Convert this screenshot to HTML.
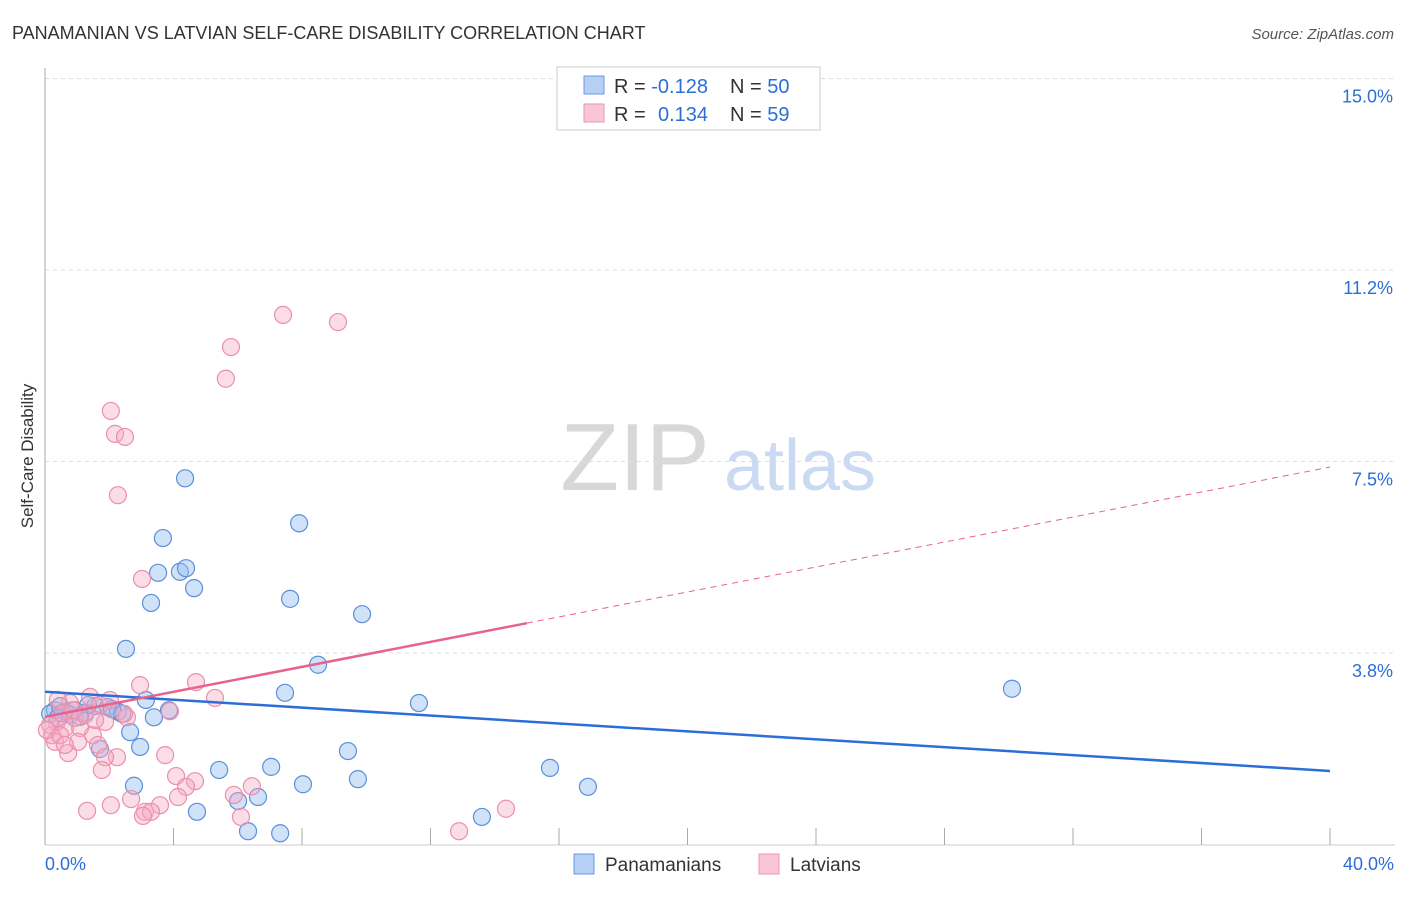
<!DOCTYPE html>
<html><head><meta charset="utf-8"><style>
body{margin:0;background:#fff;font-family:"Liberation Sans",sans-serif}
svg text{font-family:"Liberation Sans",sans-serif}
</style></head><body>
<svg id="c" width="1406" height="892">
<text x="12" y="39" font-size="18" fill="#333">PANAMANIAN VS LATVIAN SELF-CARE DISABILITY CORRELATION CHART</text>
<text x="1394" y="39" font-size="15" fill="#555" text-anchor="end" font-style="italic">Source: ZipAtlas.com</text>
<text x="33" y="456" font-size="17" fill="#333" text-anchor="middle" transform="rotate(-90 33 456)">Self-Care Disability</text>
<text x="635" y="490" font-size="96" fill="#d8d8d8" text-anchor="middle" font-family="Liberation Serif">ZIP</text>
<text x="800" y="490" font-size="72" fill="#c9daf2" text-anchor="middle">atlas</text>
<g id="grid"></g><g id="pts"></g><g id="lines"></g>
<g>
<rect x="557" y="67" width="263" height="63" fill="#fff" stroke="#ccc"/>
<rect x="584" y="76" width="20" height="18" fill="#b5cff5" stroke="#6a9be0"/>
<rect x="584" y="104" width="20" height="18" fill="#f9c6d5" stroke="#ee95b0"/>
<text x="614" y="93" font-size="20" fill="#333">R = <tspan fill="#2b6fd6">-0.128</tspan><tspan x="730">N = </tspan><tspan fill="#2b6fd6">50</tspan></text>
<text x="614" y="121" font-size="20" fill="#333">R = <tspan x="658" fill="#2b6fd6">0.134</tspan><tspan x="730">N = </tspan><tspan fill="#2b6fd6">59</tspan></text>
</g>
<g>
<rect x="574" y="854" width="20" height="20" fill="#b5cff5" stroke="#6a9be0"/>
<text x="605" y="871" font-size="19" fill="#333">Panamanians</text>
<rect x="759" y="854" width="20" height="20" fill="#f9c6d5" stroke="#ee95b0"/>
<text x="790" y="871" font-size="19" fill="#333">Latvians</text>
</g>
</svg>
<script>
const yTicks=[3.8,7.5,11.2,15.0];
const yTickVals=[3.75,7.5,11.25,15];
const xLabels=["0.0%","40.0%"];
const blueX=[4.36,3.67,7.91,3.52,4.20,4.39,4.64,3.30,7.63,9.87,2.52,8.50,30.10,7.47,3.14,11.64,0.31,0.62,0.93,1.25,1.56,1.96,2.27,2.40,3.86,3.39,2.65,2.96,1.71,9.43,5.42,7.04,15.72,2.77,8.03,9.74,16.90,6.01,6.63,4.73,6.32,7.32,13.60,0.16,0.40,0.78,1.34,2.09,0.47,1.09];
const blueY=[7.17,6.00,6.29,5.32,5.34,5.41,5.02,4.73,4.81,4.51,3.83,3.52,3.05,2.97,2.83,2.77,2.63,2.60,2.63,2.58,2.71,2.69,2.60,2.56,2.63,2.49,2.20,1.91,1.87,1.83,1.46,1.52,1.50,1.15,1.18,1.28,1.13,0.85,0.93,0.64,0.26,0.22,0.54,2.56,2.48,2.54,2.73,2.65,2.71,2.50];
const pinkX=[7.41,9.12,5.79,5.63,2.05,2.18,2.49,2.27,3.02,4.70,2.96,5.29,1.40,0.78,1.71,3.89,2.55,1.87,0.37,1.09,0.62,0.22,1.49,0.31,1.03,1.65,0.72,2.24,1.87,3.74,1.77,4.08,4.67,4.39,6.44,4.14,5.88,2.68,2.05,3.58,1.31,3.11,3.30,3.05,6.10,14.35,12.89,0.40,0.53,0.93,0.16,1.25,1.56,0.06,0.47,2.46,2.02,0.87,0.62];
const pinkY=[10.37,10.23,9.74,9.12,8.49,8.04,7.98,6.84,5.20,3.18,3.12,2.87,2.89,2.77,2.73,2.61,2.49,2.40,2.40,2.28,2.28,2.14,2.14,2.01,2.01,1.95,1.79,1.71,1.71,1.75,1.46,1.34,1.24,1.13,1.14,0.93,0.97,0.89,0.77,0.77,0.66,0.64,0.64,0.56,0.54,0.70,0.26,2.83,2.57,2.48,2.34,2.54,2.44,2.24,2.14,2.56,2.83,2.63,1.95];
const blueTrend=[2.99,1.44];
const pinkTrend=[2.50,7.39];
const pinkSolidEnd=15;
const NS="http://www.w3.org/2000/svg";
const X0=45,X1=1330,XMAX=40,Y0=844.5,PPY=51.07;
const sx=v=>X0+v/XMAX*(X1-X0), sy=v=>Y0-v*PPY;
function mk(t,a,p){const e=document.createElementNS(NS,t);for(const k in a)e.setAttribute(k,a[k]);p.appendChild(e);return e;}
const g=document.getElementById('grid');
yTickVals.forEach((v,i)=>{
 const l=mk('line',{x1:45,x2:1395,y1:sy(v),y2:sy(v),stroke:'#ddd','stroke-dasharray':'4,4'},g);
 
 
 const t=mk('text',{x:1393,y:sy(v)+24,'font-size':18,fill:'#2b6fd6','text-anchor':'end'},g);
 t.textContent=yTicks[i].toFixed(1)+'%';
 
 
});
const ax=mk('line',{x1:45,x2:45,y1:68,y2:845,stroke:'#aaa'},g);


const bx=mk('line',{x1:45,x2:1395,y1:845,y2:845,stroke:'#ccc'},g);


for(let i=0;i<=10;i++){const tk=mk('line',{x1:sx(i*4),x2:sx(i*4),y1:828,y2:845,stroke:'#aaa'},g);
 
 }
[[0,'start',45],[40,'end',1394]].forEach((d,i)=>{const t=mk('text',{x:d[2],y:870,'font-size':18,fill:'#2b6fd6','text-anchor':d[1]},g);t.textContent=xLabels[i];
 
 });
const p=document.getElementById('pts');
blueX.forEach((x,i)=>{const c=mk('circle',{cx:sx(x),cy:sy(blueY[i]),r:8.5,fill:'rgba(150,190,240,0.45)',stroke:'#5b8fd9','stroke-width':1.2},p);
 
 });
pinkX.forEach((x,i)=>{const c=mk('circle',{cx:sx(x),cy:sy(pinkY[i]),r:8.5,fill:'rgba(245,170,195,0.4)',stroke:'#ec8fab','stroke-width':1.2},p);
 
 });
const L=document.getElementById('lines');
const b=mk('line',{x1:sx(0),y1:sy(blueTrend[0]),x2:sx(40),y2:sy(blueTrend[1]),stroke:'#2b6fd6','stroke-width':2.5},L);


const pe=pinkTrend[0]+(pinkTrend[1]-pinkTrend[0])*pinkSolidEnd/40;
const ps=mk('line',{x1:sx(0),y1:sy(pinkTrend[0]),x2:sx(pinkSolidEnd),y2:sy(pe),stroke:'#e8628e','stroke-width':2.5},L);


const pd=mk('line',{x1:sx(pinkSolidEnd),y1:sy(pe),x2:sx(40),y2:sy(pinkTrend[1]),stroke:'#e8628e','stroke-width':1,'stroke-dasharray':'6,5'},L);


</script></body></html>
